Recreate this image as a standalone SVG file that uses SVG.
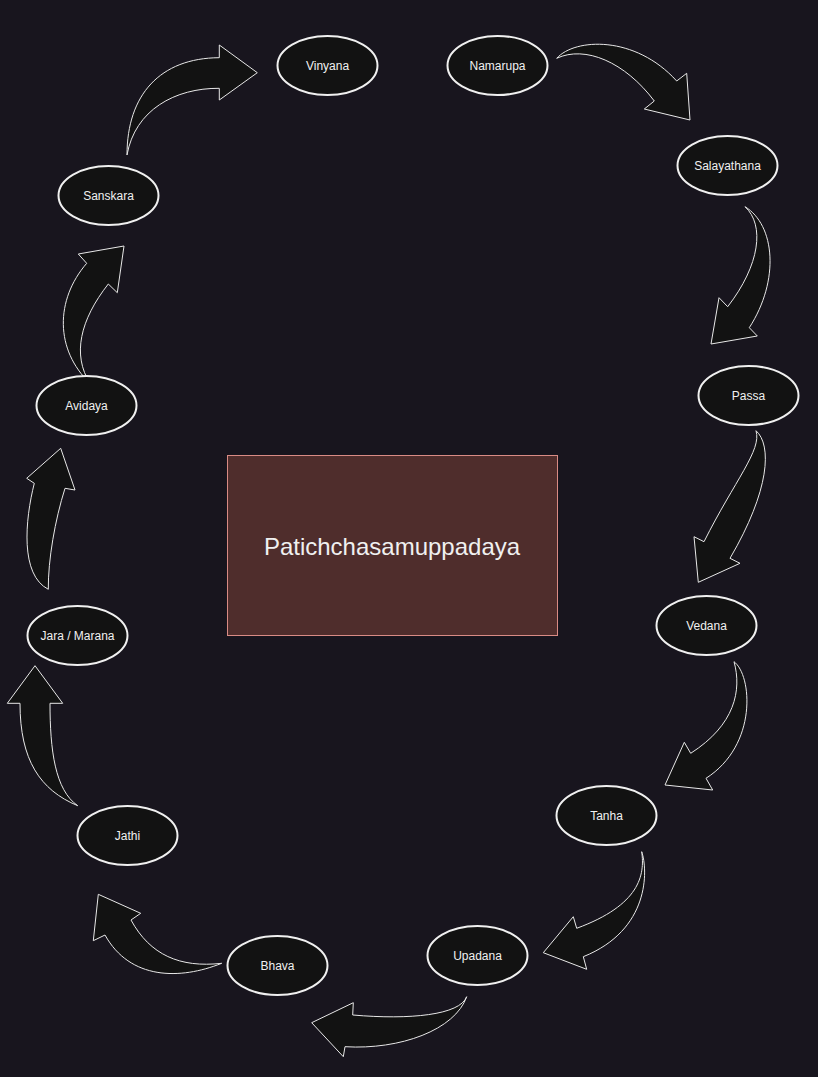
<svg xmlns="http://www.w3.org/2000/svg" width="818" height="1077" viewBox="0 0 818 1077">
<style>
.n ellipse{fill:#121212;stroke:#f0f0f0;stroke-width:2}
.n text{font-family:"Liberation Sans",Arial,sans-serif;font-size:12px;fill:#f0f0f0;text-anchor:middle;dominant-baseline:central}
.a path{fill:#121212;stroke:#e8e8e8;stroke-width:1;stroke-linejoin:miter}
</style>
<rect x="0" y="0" width="818" height="1077" fill="#18151e"/>
<g id="center">
<rect x="227.5" y="455.5" width="330" height="180" fill="#4f2d2c" stroke="#d98b85" stroke-width="1"/>
<text x="392" y="546" font-family="&quot;Liberation Sans&quot;,Arial,sans-serif" font-size="24" fill="#f0f0f0" text-anchor="middle" dominant-baseline="central">Patichchasamuppadaya</text>
</g>
<g id="connectors" class="a">
<path d="M127,155 C127,95 160,58 219.3,57.7 L219.3,45 L257.3,72.7 L219.3,100 L219.3,88.3 C175,88 135,110 127,155 Z"/>
<path d="M556.7,58.3 C575,38 635,35 676.7,81 L686.7,73.3 L690,120 L644.3,109 L654.3,101 C625,62 585,45 556.7,58.3 Z"/>
<path d="M745,206.7 C775,225 780,280 749.3,327.7 L757.3,336 L711,344 L719,297.7 L727.7,306.7 C760,265 765,225 745,206.7 Z"/>
<path d="M756,430.7 C772,445 770,490 730,558.3 L740,563.3 L698.3,582.3 L694,536.7 L704,541.7 C735,480 762,450 756,430.7 Z"/>
<path d="M734,661.7 C752,675 758,745 706,778.3 L712.7,790 L665,785 L684.3,742.3 L690.7,753.3 C735,725 742,690 734,661.7 Z"/>
<path d="M641.7,851.7 C648,870 650,930 583.3,956.7 L586.7,969.3 L543.3,952.7 L573.3,916.7 L576.7,928.3 C640,905 645,875 641.7,851.7 Z"/>
<path d="M466.7,996.7 C455,1030 400,1050 345,1046.7 L343.3,1056.7 L311.7,1022.7 L353.3,1002.7 L352.7,1015 C410,1020 460,1015 466.7,996.7 Z"/>
<path d="M221.7,963.3 C180,980 130,980 105,935 L93.3,940.7 L98.3,894.3 L140.7,913.3 L131,920 C150,955 180,968 221.7,963.3 Z"/>
<path d="M77.7,805.7 C40,790 20,760 20,703.3 L7.3,703.3 L35,665.7 L62.7,703.3 L50,703.3 C50,750 55,790 77.7,805.7 Z"/>
<path d="M48.3,589.3 C20,575 25,520 34.3,483.3 L26.7,478.3 L60.7,448.3 L75,490 L65,488.3 C55,520 48,560 48.3,589.3 Z"/>
<path d="M90,383.3 C55,350 55,300 86.7,263.3 L78.3,254 L124,246 L117.3,292.7 L108.3,284 C80,320 72,355 90,383.3 Z"/>
</g>
<g id="vinyana" class="n"><ellipse cx="327.5" cy="65.5" rx="50" ry="29.5"/><text x="327.5" y="66">Vinyana</text></g>
<g id="namarupa" class="n"><ellipse cx="497.5" cy="65.5" rx="50" ry="29.5"/><text x="497.5" y="66">Namarupa</text></g>
<g id="salayathana" class="n"><ellipse cx="727.5" cy="165.5" rx="50" ry="29.5"/><text x="727.5" y="166">Salayathana</text></g>
<g id="passa" class="n"><ellipse cx="748.5" cy="395.5" rx="50" ry="29.5"/><text x="748.5" y="396">Passa</text></g>
<g id="vedana" class="n"><ellipse cx="706.5" cy="625.5" rx="50" ry="29.5"/><text x="706.5" y="626">Vedana</text></g>
<g id="tanha" class="n"><ellipse cx="606.5" cy="815.5" rx="50" ry="29.5"/><text x="606.5" y="816">Tanha</text></g>
<g id="upadana" class="n"><ellipse cx="477.5" cy="955.5" rx="50" ry="29.5"/><text x="477.5" y="956">Upadana</text></g>
<g id="bhava" class="n"><ellipse cx="277.5" cy="965.5" rx="50" ry="29.5"/><text x="277.5" y="966">Bhava</text></g>
<g id="jathi" class="n"><ellipse cx="127.5" cy="835.5" rx="50" ry="29.5"/><text x="127.5" y="836">Jathi</text></g>
<g id="jara-marana" class="n"><ellipse cx="77.5" cy="635.5" rx="50" ry="29.5"/><text x="77.5" y="636">Jara / Marana</text></g>
<g id="avidaya" class="n"><ellipse cx="86.5" cy="405.5" rx="50" ry="29.5"/><text x="86.5" y="406">Avidaya</text></g>
<g id="sanskara" class="n"><ellipse cx="108.5" cy="195.5" rx="50" ry="29.5"/><text x="108.5" y="196">Sanskara</text></g>
</svg>
